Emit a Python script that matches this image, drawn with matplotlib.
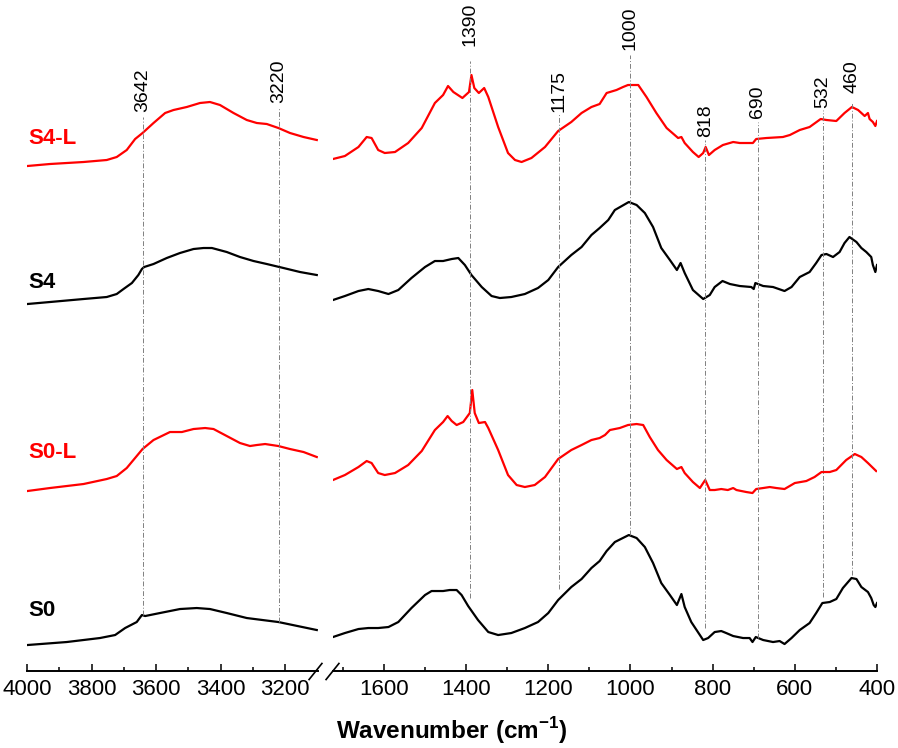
import matplotlib
matplotlib.use("Agg")
import matplotlib.pyplot as plt
import numpy as np

plt.rcParams['font.family'] = ['Liberation Sans', 'DejaVu Sans']
plt.rcParams['mathtext.fontset'] = 'custom'
plt.rcParams['mathtext.rm'] = 'Liberation Sans'
plt.rcParams['mathtext.bf'] = 'Liberation Sans:bold'

# ---- spectra, high wavenumber region (4000-3100 cm-1) ----
wn_hi_s4l = [3999, 3929, 3825, 3753, 3722, 3691, 3665, 3642, 3608, 3572, 3546, 3505,
             3464, 3433, 3402, 3360, 3319, 3288, 3257, 3221, 3185, 3143, 3102]
ab_hi_s4l = [5.05, 5.07, 5.09, 5.11, 5.14, 5.21, 5.32, 5.38, 5.48, 5.58, 5.61, 5.64,
             5.68, 5.69, 5.66, 5.58, 5.51, 5.48, 5.47, 5.43, 5.38, 5.34, 5.31]

wn_hi_s4 = [3999, 3929, 3825, 3753, 3722, 3701, 3675, 3655, 3644, 3637, 3608, 3567,
            3526, 3484, 3453, 3427, 3381, 3340, 3298, 3257, 3205, 3154, 3102]
ab_hi_s4 = [3.67, 3.69, 3.72, 3.74, 3.77, 3.82, 3.88, 3.96, 4.02, 4.04, 4.07, 4.13,
            4.18, 4.22, 4.23, 4.23, 4.19, 4.14, 4.10, 4.07, 4.03, 3.99, 3.96]

wn_hi_s0l = [3999, 3929, 3825, 3753, 3722, 3691, 3660, 3642, 3608, 3557, 3520, 3484,
             3448, 3422, 3381, 3340, 3309, 3288, 3262, 3221, 3185, 3143, 3102]
ab_hi_s0l = [1.80, 1.83, 1.87, 1.92, 1.95, 2.03, 2.15, 2.22, 2.31, 2.39, 2.39, 2.42,
             2.43, 2.42, 2.35, 2.28, 2.25, 2.26, 2.27, 2.25, 2.22, 2.19, 2.14]

wn_hi_s0 = [3999, 3877, 3774, 3727, 3696, 3660, 3644, 3634, 3588, 3526, 3474, 3433,
            3381, 3319, 3221, 3102]
ab_hi_s0 = [0.26, 0.29, 0.33, 0.36, 0.43, 0.49, 0.56, 0.55, 0.58, 0.62, 0.63, 0.62,
            0.58, 0.53, 0.49, 0.41]

# ---- spectra, fingerprint region (1724-400 cm-1) ----
wn_lo_s4l = [1724, 1695, 1662, 1642, 1630, 1614, 1598, 1573, 1541, 1508, 1476, 1456,
             1444, 1431, 1409, 1393, 1387, 1380, 1369, 1356, 1346, 1322, 1298, 1281,
             1265, 1241, 1208, 1176, 1144, 1119, 1095, 1075, 1058, 1034, 1018, 1006,
             981, 961, 937, 912, 884, 876, 868, 848, 834, 823, 817, 809, 795, 775,
             750, 734, 702, 694, 669, 629, 612, 588, 564, 537, 523, 499, 479, 461,
             446, 430, 422, 418, 410, 404, 400]
ab_lo_s4l = [5.12, 5.15, 5.24, 5.34, 5.33, 5.21, 5.18, 5.19, 5.28, 5.43, 5.68, 5.76,
             5.85, 5.79, 5.73, 5.79, 5.96, 5.83, 5.78, 5.83, 5.74, 5.44, 5.18, 5.11,
             5.09, 5.13, 5.24, 5.40, 5.49, 5.58, 5.64, 5.67, 5.78, 5.81, 5.84, 5.86,
             5.86, 5.74, 5.58, 5.43, 5.33, 5.34, 5.28, 5.19, 5.14, 5.18, 5.24, 5.16,
             5.21, 5.26, 5.29, 5.28, 5.28, 5.32, 5.33, 5.34, 5.36, 5.41, 5.44, 5.52,
             5.51, 5.50, 5.58, 5.64, 5.61, 5.55, 5.58, 5.52, 5.49, 5.45, 5.50]

wn_lo_s4 = [1724, 1695, 1662, 1638, 1614, 1589, 1565, 1533, 1500, 1476, 1456, 1435,
            1419, 1403, 1387, 1362, 1338, 1318, 1290, 1257, 1225, 1200, 1176, 1144,
            1119, 1095, 1075, 1054, 1038, 1004, 985, 965, 945, 925, 904, 887, 878,
            868, 848, 823, 807, 795, 776, 758, 734, 706, 700, 696, 677, 653, 625,
            608, 588, 564, 548, 535, 523, 507, 491, 479, 467, 450, 438, 426, 414,
            410, 404, 400]
ab_lo_s4 = [3.71, 3.75, 3.80, 3.82, 3.80, 3.77, 3.81, 3.93, 4.04, 4.10, 4.10, 4.12,
            4.13, 4.06, 3.96, 3.84, 3.75, 3.73, 3.74, 3.77, 3.83, 3.91, 4.04, 4.16,
            4.24, 4.36, 4.43, 4.51, 4.61, 4.69, 4.66, 4.58, 4.44, 4.23, 4.11, 4.01, 4.08,
            3.98, 3.81, 3.72, 3.76, 3.84, 3.90, 3.87, 3.85, 3.84, 3.82, 3.88, 3.85, 3.84,
            3.80, 3.84, 3.94, 3.99, 4.08, 4.16, 4.17, 4.14, 4.19, 4.28, 4.34, 4.29,
            4.23, 4.19, 4.14, 4.06, 3.99, 4.06]

wn_lo_s0l = [1724, 1695, 1662, 1642, 1630, 1614, 1598, 1573, 1541, 1508, 1476, 1456,
             1445, 1435, 1423, 1407, 1391, 1385, 1379, 1369, 1354, 1346, 1322, 1298,
             1277, 1257, 1233, 1208, 1176, 1144, 1119, 1095, 1075, 1062, 1050, 1026,
             1006, 985, 969, 953, 933, 912, 887, 876, 868, 848, 831, 823, 818, 807,
             795, 779, 763, 750, 742, 718, 703, 694, 677, 661, 645, 625, 600, 572,
             552, 535, 515, 499, 475, 454, 438, 422, 402]
ab_lo_s0l = [1.91, 1.96, 2.04, 2.10, 2.08, 1.98, 1.96, 1.98, 2.06, 2.20, 2.41, 2.49,
             2.55, 2.50, 2.46, 2.49, 2.58, 2.81, 2.58, 2.48, 2.49, 2.43, 2.21, 1.96,
             1.86, 1.84, 1.86, 1.94, 2.12, 2.21, 2.26, 2.31, 2.33, 2.36, 2.41, 2.43,
             2.46, 2.47, 2.46, 2.34, 2.21, 2.11, 2.02, 2.04, 1.98, 1.89, 1.83, 1.88,
             1.91, 1.81, 1.81, 1.82, 1.81, 1.83, 1.81, 1.79, 1.78, 1.82, 1.83, 1.84,
             1.83, 1.82, 1.88, 1.90, 1.94, 1.99, 1.99, 2.01, 2.11, 2.17, 2.14, 2.08, 2.00]

wn_lo_s0 = [1724, 1695, 1662, 1638, 1614, 1589, 1565, 1533, 1500, 1484, 1456, 1440,
            1423, 1411, 1395, 1371, 1346, 1322, 1290, 1257, 1225, 1200, 1176, 1144,
            1119, 1095, 1075, 1058, 1038, 1004, 985, 965, 945, 925, 904, 887, 876,
            868, 852, 823, 811, 795, 779, 767, 750, 726, 710, 703, 695, 677, 653,
            637, 625, 608, 588, 564, 548, 533, 515, 499, 483, 462, 450, 438, 422,
            414, 408, 404, 400]
ab_lo_s0 = [0.34, 0.38, 0.42, 0.43, 0.43, 0.44, 0.49, 0.63, 0.76, 0.80, 0.80, 0.81,
            0.81, 0.76, 0.65, 0.51, 0.39, 0.36, 0.38, 0.43, 0.49, 0.58, 0.71, 0.84,
            0.92, 1.03, 1.10, 1.20, 1.29, 1.36, 1.33, 1.24, 1.08, 0.88, 0.76, 0.66,
            0.77, 0.64, 0.49, 0.31, 0.33, 0.39, 0.40, 0.38, 0.35, 0.33, 0.33, 0.29,
            0.34, 0.31, 0.29, 0.30, 0.27, 0.33, 0.41, 0.48, 0.58, 0.68, 0.69, 0.72,
            0.83, 0.93, 0.92, 0.84, 0.79, 0.73, 0.66, 0.64, 0.68]

# ---- sample names and their label heights ----
sample_names = ['S4-L', 'S4', 'S0-L', 'S0']
sample_colors = ['red', 'black', 'red', 'black']
sample_label_y = [5.33, 3.89, 2.19, 0.61]

# ---- marked bands: wavenumber, line top, line bottom, label base ----
band_wn = [3642, 3220, 1390, 1175, 1000, 818, 690, 532, 460]
band_top = [5.54, 5.64, 6.10, 5.58, 6.16, 5.31, 5.49, 5.61, 5.68]
band_bottom = [0.56, 0.49, 0.73, 0.82, 1.36, 0.43, 0.33, 0.74, 0.96]
band_text_y = [5.59, 5.68, 6.25, 5.59, 6.21, 5.34, 5.53, 5.63, 5.78]

hi_series = [(wn_hi_s4l, ab_hi_s4l), (wn_hi_s4, ab_hi_s4),
             (wn_hi_s0l, ab_hi_s0l), (wn_hi_s0, ab_hi_s0)]
lo_series = [(wn_lo_s4l, ab_lo_s4l), (wn_lo_s4, ab_lo_s4),
             (wn_lo_s0l, ab_lo_s0l), (wn_lo_s0, ab_lo_s0)]

fig = plt.figure(figsize=(8.98, 7.48), dpi=100)
ax1 = fig.add_axes([0.0301, 0.1029, 0.3241, 0.8971])
ax2 = fig.add_axes([0.3708, 0.1029, 0.6058, 0.8971])

for (x, y), c in zip(hi_series, sample_colors):
    ax1.plot(x, y, color=c, lw=1.6)
for (x, y), c in zip(lo_series, sample_colors):
    ax2.plot(x, y, color=c, lw=1.6)

ax1.set_xlim(4000, 3098)
ax2.set_xlim(1724, 400)
for ax in (ax1, ax2):
    ax.set_ylim(0, 6.71)
    ax.set_yticks([])
    for s in ('left', 'right', 'top'):
        ax.spines[s].set_visible(False)
    ax.spines['bottom'].set_linewidth(1.4)
    ax.tick_params(axis='x', which='major', direction='in', length=5, width=1.1,
                   labelsize=16, pad=5.5)
    ax.tick_params(axis='x', which='minor', direction='in', length=2.8, width=1.1)

ax1.set_xticks([4000, 3800, 3600, 3400, 3200])
ax1.set_xticks([3900, 3700, 3500, 3300], minor=True)
ax2.set_xticks([1600, 1400, 1200, 1000, 800, 600, 400])
ax2.set_xticks([1700, 1500, 1300, 1100, 900, 700, 500], minor=True)

# band markers
for wn, top, bot, ty in zip(band_wn, band_top, band_bottom, band_text_y):
    ax = ax1 if wn > 2000 else ax2
    ax.plot([wn, wn], [bot, top], color='0.5', lw=0.7, ls=(0, (5, 2, 1, 2)))
    ax.text(wn, ty, str(wn), rotation=90, ha='center', va='bottom', fontsize=14)

# sample labels
for name, c, y in zip(sample_names, sample_colors, sample_label_y):
    ax1.text(3997, y, name, color=c, fontsize=16, fontweight='bold',
             ha='left', va='center')

# axis break marks
brk = dict(marker=[(-0.8, -1), (0.8, 1)], markersize=12.5, linestyle='none',
           color='k', mec='k', mew=1.2, clip_on=False)
ax1.plot([0.99], [0], transform=ax1.transAxes, **brk)
ax2.plot([-0.001], [0], transform=ax2.transAxes, **brk)

fig.text(0.503, 0.0227, r'Wavenumber (cm$^{\mathbf{-1}}$)', fontsize=17.5,
         fontweight='bold', ha='center', va='center')

fig.savefig('out.png', dpi=100)
